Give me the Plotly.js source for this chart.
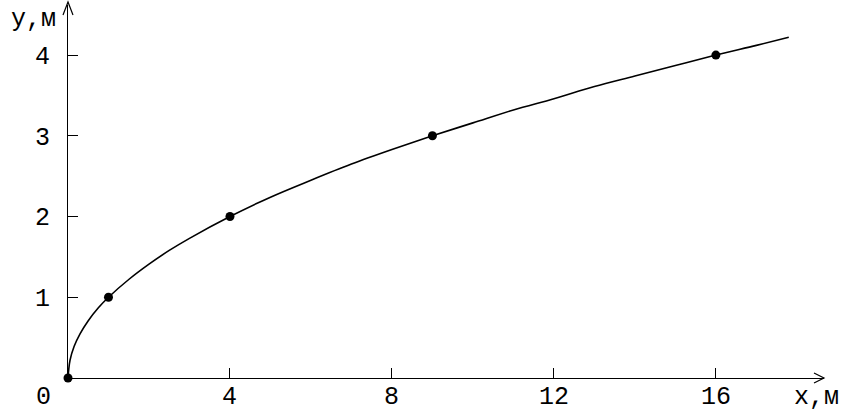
<!DOCTYPE html>
<html>
<head>
<meta charset="utf-8">
<script src="https://cdn.plot.ly/plotly-3.0.1.min.js"></script>
<style>html,body{margin:0;padding:0;background:#fff;}#chart{width:841px;height:415px;}</style>
</head>
<body>
<div id="chart"></div>
<script>
// Curve
const curveX = [0, 0.05, 0.15, 0.3, 0.5, 0.75, 1, 1.5, 2, 2.5, 3, 4, 5, 6, 7, 8, 9, 10, 11, 12, 13, 14, 15, 16, 17, 17.8];
const curveY = [0, 0.22, 0.39, 0.55, 0.71, 0.87, 1, 1.22, 1.41, 1.58, 1.73, 2, 2.24, 2.45, 2.65, 2.83, 3, 3.16, 3.32, 3.46, 3.61, 3.74, 3.87, 4, 4.12, 4.22];
// Marked points
const pointX = [0, 1, 4, 9, 16];
const pointY = [0, 1, 2, 3, 4];
// Tick labels
const xTicks = [4, 8, 12, 16];
const xTickText = ['4', '8', '12', '16'];
const yTicks = [1, 2, 3, 4];
const yTickText = ['1', '2', '3', '4'];
const xTitle = 'x,м';
const yTitle = 'y,м';
const originLabel = '0';

const FONT = 'Liberation Mono, Courier New, monospace';
const FS = 25;
const tf = {family: FONT, size: FS, color: '#000'};

const traces = [
  {x: curveX, y: curveY, mode: 'lines', line: {color: '#000', width: 1.6, shape: 'spline', smoothing: 1}, hoverinfo: 'skip', cliponaxis: false},
  {x: pointX, y: pointY, mode: 'markers', marker: {color: '#000', size: 9}, cliponaxis: false}
];

const bottomLabels = xTicks.map((v, i) => ({
  text: xTickText[i], xref: 'x', yref: 'paper', x: v, y: 0,
  xanchor: 'center', yanchor: 'bottom', yshift: -36, showarrow: false, font: tf
}));

const layout = {
  width: 841, height: 415,
  margin: {l: 68, r: 17, t: 5, b: 37},
  paper_bgcolor: '#fff', plot_bgcolor: '#fff',
  showlegend: false,
  font: tf,
  xaxis: {
    range: [0, 18.67], showgrid: false, zeroline: false,
    showline: true, linecolor: '#000', linewidth: 1,
    ticks: 'inside', ticklen: 10, tickwidth: 1, tickcolor: '#000',
    tickvals: xTicks, showticklabels: false, fixedrange: true
  },
  yaxis: {
    range: [0, 4.62], showgrid: false, zeroline: false,
    showline: true, linecolor: '#000', linewidth: 1,
    ticks: 'inside', ticklen: 10, tickwidth: 1, tickcolor: '#000',
    tickvals: yTicks, ticktext: yTickText, ticklabelstandoff: 12,
    tickfont: tf, fixedrange: true
  },
  shapes: [
    {type: 'path', xref: 'paper', yref: 'paper', xsizemode: 'pixel', ysizemode: 'pixel', xanchor: 1, yanchor: 0,
     path: 'M -10 5 L 0 0 L -10 -5', line: {color: '#000', width: 1.2}},
    {type: 'path', xref: 'paper', yref: 'paper', xsizemode: 'pixel', ysizemode: 'pixel', xanchor: 0, yanchor: 1,
     path: 'M -5 -10 L 0 3 L 5 -10', line: {color: '#000', width: 1.2}}
  ],
  annotations: bottomLabels.concat([
    {text: xTitle, xref: 'paper', yref: 'paper', x: 1, y: 0, xanchor: 'right', yanchor: 'bottom', xshift: 17, yshift: -36, showarrow: false, font: tf},
    {text: yTitle, xref: 'paper', yref: 'paper', x: 0, y: 1, xanchor: 'right', yanchor: 'top', xshift: -10, yshift: 2, showarrow: false, font: tf},
    {text: originLabel, xref: 'paper', yref: 'paper', x: 0, y: 0, xanchor: 'center', yanchor: 'bottom', xshift: -25, yshift: -36, showarrow: false, font: tf}
  ])
};

Plotly.newPlot('chart', traces, layout, {displayModeBar: false, staticPlot: true});
</script>
</body>
</html>
